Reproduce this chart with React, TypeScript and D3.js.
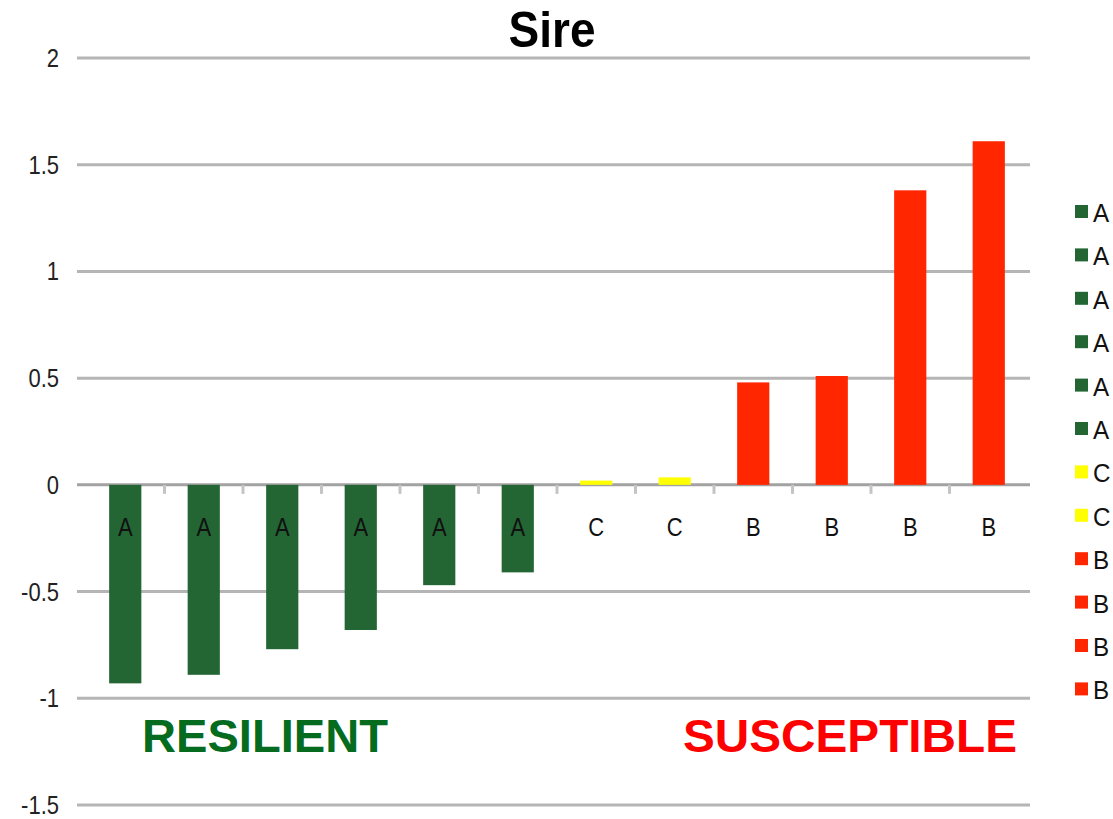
import React from 'react';
import { scaleBand, scaleLinear } from 'd3';

const categories = ['s1', 's2', 's3', 's4', 's5', 's6', 's7', 's8', 's9', 's10', 's11', 's12'];
const groups = ['A', 'A', 'A', 'A', 'A', 'A', 'C', 'C', 'B', 'B', 'B', 'B'];
const values = [-0.93, -0.89, -0.77, -0.68, -0.47, -0.41, 0.02, 0.035, 0.48, 0.51, 1.38, 1.61];
const yTicks = [2, 1.5, 1, 0.5, 0, -0.5, -1, -1.5];

const groupColor = { A: '#236634', C: '#ffff00', B: '#ff2600' };

const W = 1113, H = 819;

export default function App() {
  const x = scaleBand().domain(categories).range([86, 1028]).paddingInner(0.59).paddingOuter(0.295);
  const y = scaleLinear().domain([-1.5, 2]).range([805, 58]);
  const step = x.step();
  const x0 = x.range()[0];

  return (
    <svg width={W} height={H} style={{ position: 'absolute', left: 0, top: 0, background: '#fff' }}
      fontFamily="'Liberation Sans', Arial, sans-serif">
      {/* title */}
      <text transform={`translate(552,47) scale(1,1.1)`} textAnchor="middle" fontSize={46} fontWeight="bold" fill="#000">Sire</text>

      {/* gridlines */}
      {yTicks.map(t => (
        <line key={t} x1={77} x2={1030} y1={y(t)} y2={y(t)}
          stroke={t === 0 ? '#a2a2a2' : '#b5b5b5'} strokeWidth={3} />
      ))}

      {/* y labels */}
      {yTicks.map(t => (
        <text key={'l' + t} transform={`translate(59,${y(t) + 9}) scale(1,1.18)`} textAnchor="end"
          fontSize={22} fill="#222">{t}</text>
      ))}

      {/* tick marks on zero line */}
      {categories.slice(0, -1).map((c, i) => (
        <line key={'t' + c} x1={x0 + step * (i + 1)} x2={x0 + step * (i + 1)} y1={y(0)} y2={y(0) + 9}
          stroke="#c4c4c4" strokeWidth={3} />
      ))}

      {/* bars */}
      {categories.map((c, i) => {
        const v = values[i];
        const top = Math.min(y(v), y(0));
        const h = Math.abs(y(v) - y(0));
        return (
          <rect key={c} x={x(c)} y={top} width={x.bandwidth()} height={h}
            fill={groupColor[groups[i]]} />
        );
      })}

      {/* bar labels */}
      {categories.map((c, i) => (
        <text key={'b' + c} transform={`translate(${(x(c) || 0) + x.bandwidth() / 2},${y(0) + 51}) scale(1,1.15)`}
          textAnchor="middle" fontSize={22} fill="#111">{groups[i]}</text>
      ))}

      {/* annotations */}
      <text x={142} y={752} fontSize={47} fontWeight="bold" fill="#056b1e"
        textLength={246} lengthAdjust="spacingAndGlyphs">RESILIENT</text>
      <text x={683} y={752} fontSize={47} fontWeight="bold" fill="#ff0000"
        textLength={334} lengthAdjust="spacingAndGlyphs">SUSCEPTIBLE</text>

      {/* legend */}
      {categories.map((c, i) => (
        <g key={'g' + c} transform={`translate(1075,${205 + i * 43.4})`}>
          <rect x={0} y={0} width={13} height={13} fill={groupColor[groups[i]]} />
          <text transform="translate(18,17) scale(1.1,1.15)" fontSize={22} fill="#111">{groups[i]}</text>
        </g>
      ))}
    </svg>
  );
}
